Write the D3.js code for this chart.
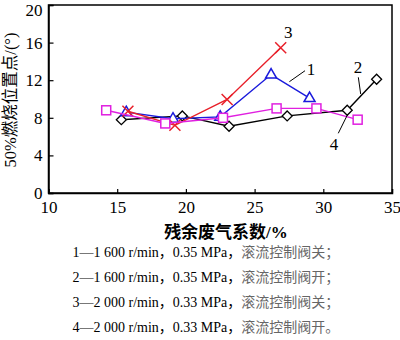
<!DOCTYPE html>
<html><head><meta charset="utf-8">
<script src="https://cdn.jsdelivr.net/npm/d3@7"></script>
<style>body{margin:0;background:#fff}svg{display:block}</style>
</head><body>
<script>
const xTicks = [10, 15, 20, 25, 30, 35];
const yTicks = [0, 4, 8, 12, 16, 20];
const xs1 = [15.66, 19.06, 22.5, 26.2, 29.0];
const ys1 = [8.6, 7.9, 8.1, 12.6, 10.1];
const xs2 = [15.3, 19.74, 23.14, 27.37, 31.74, 33.88];
const ys2 = [7.8, 8.2, 7.1, 8.2, 8.8, 12.1];
const xs3 = [15.78, 19.2, 23.0, 26.9];
const ys3 = [8.7, 7.2, 9.95, 15.45];
const xs4 = [14.2, 18.5, 22.7, 26.6, 29.5, 32.5];
const ys4 = [8.8, 7.4, 8.0, 9.0, 9.0, 7.8];
const xTitle = "残余废气系数/%";
const yTitle = "50%燃烧位置点/(°)";
const legendNum = ["1—1 600 r/min，0.35 MPa，", "2—1 600 r/min，0.35 MPa，", "3—2 000 r/min，0.33 MPa，", "4—2 000 r/min，0.33 MPa，"];
const legendCn = ["滚流控制阀关；", "滚流控制阀开；", "滚流控制阀关；", "滚流控制阀开。"];

const W = 400, H = 340;
const L = 48.5, R = 392, T = 5, B = 193;
const serif = "'Liberation Serif','Times New Roman','Noto Sans CJK SC',serif";
const svg = d3.select("body").append("svg").attr("width", W).attr("height", H);
const x = d3.scaleLinear().domain([10, 35]).range([L, R]);
const y = d3.scaleLinear().domain([0, 20]).range([B, T]);

// frame
svg.append("rect").attr("x", L).attr("y", T).attr("width", R - L).attr("height", B - T)
  .attr("fill", "none").attr("stroke", "#000").attr("stroke-width", 1.5);

const xa = svg.append("g").attr("transform", `translate(0,${B})`)
  .call(d3.axisBottom(x).tickValues(xTicks).tickSize(-4).tickPadding(8).tickFormat(d3.format("d")));
const ya = svg.append("g").attr("transform", `translate(${L},0)`)
  .call(d3.axisLeft(y).tickValues(yTicks).tickSize(-5).tickPadding(6).tickFormat(d3.format("d")));
[xa, ya].forEach(a => {
  a.select(".domain").attr("stroke-width", 1.5);
  a.selectAll(".tick line").attr("stroke-width", 1.2);
  a.selectAll("text").attr("font-family", serif).attr("font-size", 17).attr("fill", "#000");
});
ya.selectAll(".tick").filter(d => d === 20).select("text").attr("dy", "0.62em");

svg.append("text").attr("x", 226).attr("y", 238).attr("text-anchor", "middle")
  .attr("font-family", serif).attr("font-size", 17).attr("font-weight", "bold").text(xTitle);
svg.append("text").attr("transform", "translate(10,100) rotate(-90)").attr("text-anchor", "middle")
  .attr("dominant-baseline", "central")
  .attr("font-family", serif).attr("font-size", 16.5).text(yTitle);

const series = [
  {xs: xs2, ys: ys2, color: "#000000", mark: "diamond"},
  {xs: xs1, ys: ys1, color: "#1a1adc", mark: "triangle"},
  {xs: xs3, ys: ys3, color: "#e8202a", mark: "cross"},
  {xs: xs4, ys: ys4, color: "#e020e0", mark: "square"}
];
const line = d3.line().x(d => x(d[0])).y(d => y(d[1]));
series.forEach(s => {
  const pts = s.xs.map((v, i) => [v, s.ys[i]]);
  svg.append("path").datum(pts).attr("d", line).attr("fill", "none")
    .attr("stroke", s.color).attr("stroke-width", 1.4);
  const g = svg.append("g");
  pts.forEach(p => {
    const cx = x(p[0]), cy = y(p[1]);
    if (s.mark === "diamond") {
      g.append("path").attr("d", `M${cx},${cy-5}L${cx+5},${cy}L${cx},${cy+5}L${cx-5},${cy}Z`)
        .attr("fill", "#fff").attr("stroke", s.color).attr("stroke-width", 1.3);
    } else if (s.mark === "triangle") {
      g.append("path").attr("d", `M${cx},${cy-6}L${cx+5.5},${cy+3.5}L${cx-5.5},${cy+3.5}Z`)
        .attr("fill", "#fff").attr("stroke", s.color).attr("stroke-width", 1.5);
    } else if (s.mark === "square") {
      g.append("rect").attr("x", cx - 4.5).attr("y", cy - 4.5).attr("width", 9).attr("height", 9)
        .attr("fill", "#fff").attr("stroke", s.color).attr("stroke-width", 1.5);
    } else {
      g.append("path").attr("d", `M${cx-5.5},${cy-5.5}L${cx+5.5},${cy+5.5}M${cx+5.5},${cy-5.5}L${cx-5.5},${cy+5.5}`)
        .attr("stroke", s.color).attr("stroke-width", 1.5);
    }
  });
});

// curve labels and leaders
const labels = [
  {t: "3", x: 27.45, y: 17.05},
  {t: "1", x: 29.1, y: 13.15},
  {t: "2", x: 32.53, y: 13.3},
  {t: "4", x: 30.78, y: 5.2}
];
labels.forEach(l => svg.append("text").attr("x", x(l.x)).attr("y", y(l.y)).attr("text-anchor", "middle")
  .attr("dominant-baseline", "central").attr("font-family", serif).attr("font-size", 17).text(l.t));
const leaders = [
  [27.53, 11.84, 28.67, 13.01],
  [32.55, 12.31, 32.72, 10.53],
  [31.09, 6.35, 31.75, 8.3]
];
leaders.forEach(d => svg.append("line").attr("x1", x(d[0])).attr("y1", y(d[1]))
  .attr("x2", x(d[2])).attr("y2", y(d[3])).attr("stroke", "#000").attr("stroke-width", 1));

// legend
legendNum.forEach((t, i) => {
  const tx = svg.append("text").attr("x", 72.5).attr("y", 256.5 + i * 25)
    .attr("font-family", serif).attr("font-size", 14);
  tx.append("tspan").attr("fill", "#000").text(t);
  tx.append("tspan").attr("fill", "#666").attr("font-family", "'Noto Sans CJK SC',sans-serif").text(legendCn[i]);
});
</script>
</body></html>
